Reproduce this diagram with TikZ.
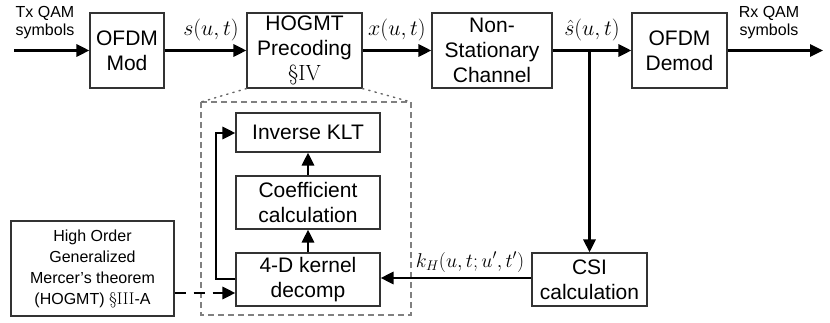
\RequirePackage{fix-cm}
\documentclass[tikz,border=0pt]{standalone}
\usepackage{fontspec}
\setsansfont{Liberation Sans}
\usetikzlibrary{arrows.meta,shadows}
\begin{document}
\begin{tikzpicture}[x=1pt,y=-1pt,
  blk/.style={draw=black!80, line width=1.1pt, fill=white, align=center,
    font=\sffamily\fontsize{21}{25}\selectfont, inner sep=0pt,
    drop shadow={opacity=0.25, shadow xshift=1.2pt, shadow yshift=-1.2pt}},
  sig/.style={line width=2.8pt, -{Triangle[length=13pt,width=12pt]}},
  lab/.style={font=\fontsize{22}{26}\selectfont, inner sep=0pt},
  small/.style={font=\sffamily\fontsize{16}{18}\selectfont, align=center, inner sep=0pt}]
\useasboundingbox (0,0) rectangle (830,323);

% top chain
\node[blk, minimum width=74pt, minimum height=75pt] (mod) at (127,50.5) {OFDM\\Mod};
\node[blk, minimum width=115pt, minimum height=75pt] (hog) at (304.5,50.5) {HOGMT\\Precoding\\{\rmfamily\fontsize{22}{25}\selectfont\S IV}};
\node[blk, minimum width=120pt, minimum height=75pt] (chan) at (492,50.5) {Non-\\Stationary\\Channel};
\node[blk, minimum width=95pt, minimum height=75pt] (demod) at (679.5,50.5) {OFDM\\Demod};

\coordinate (in) at (14,50.5);
\coordinate (out) at (823,50.5);
\coordinate (br) at (589.5,50.5);

\node[small] (tx) at (45,23) {Tx QAM\\symbols};
\node[small] (rx) at (769,23) {Rx QAM\\symbols};

\draw[sig] (in) -- (mod);
\draw[sig] (mod) -- (hog);
\draw[sig] (hog) -- (chan);
\draw[sig] (chan) -- (demod);
\draw[sig] (demod) -- (out);

\node[lab] (s) at (211,30) {$s(u,t)$};
\node[lab] (x) at (397,30) {$x(u,t)$};
\node[lab] (sh) at (592,30) {$\hat{s}(u,t)$};

% dashed expansion box
\coordinate (dtl) at (201,102);
\coordinate (dbr) at (411,315);
\coordinate (dtr) at (411,102);
\draw[gray, line width=1.2pt, dash pattern=on 6pt off 4pt] (dtl) rectangle (dbr);
\draw[black!60, line width=1.4pt, dash pattern=on 1.4pt off 5pt, line cap=round] (hog.south west) -- (dtl);
\draw[black!60, line width=1.4pt, dash pattern=on 1.4pt off 5pt, line cap=round] (hog.south east) -- (dtr);

% inner blocks
\node[blk, minimum width=144pt, minimum height=39pt] (klt) at (308,132.5) {Inverse KLT};
\node[blk, minimum width=144pt, minimum height=53pt] (coef) at (308,202.5) {Coefficient\\calculation};
\node[blk, minimum width=144pt, minimum height=53pt] (kern) at (308,279.5) {4-D kernel\\decomp};

\node[blk, minimum width=115pt, minimum height=53pt] (csi) at (589.5,279.5) {CSI\\calculation};

\node[blk, font=\sffamily\fontsize{16}{21}\selectfont, minimum width=163pt, minimum height=95pt] (hom) at (92.5,268.5)
  {High Order\\Generalized\\Mercer’s theorem\\(HOGMT) {\rmfamily\fontsize{17}{21}\selectfont\S III}-A};

\draw[sig] (kern) -- (coef);
\draw[sig] (coef) -- (klt);
\draw[sig] (br) -- (csi);
\draw[sig] (csi.west |- 0,278) -- (kern.east |- 0,278);
\draw[sig] (kern.west |- 0,279) -- (216,279) -- (216,133) -- (klt.west |- 0,133);
\draw[sig, dash pattern=on 11pt off 8pt] (hom.east |- 0,293) -- (kern.west |- 0,293);

\node[lab, font=\fontsize{20}{24}\selectfont] (kh) at (470,262) {$k_H(u,t;u',t')$};
\end{tikzpicture}
\end{document}
